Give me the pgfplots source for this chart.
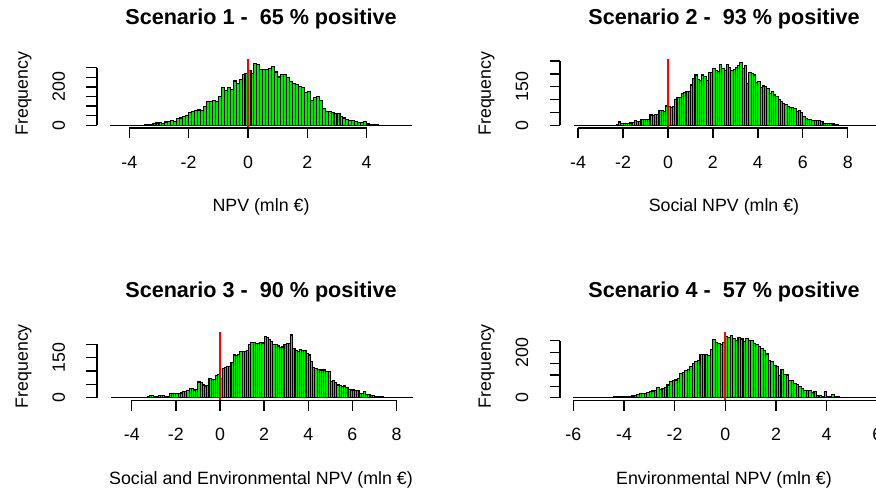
\documentclass[border=0pt]{standalone}
\usepackage{fontspec}
\setmainfont{Liberation Sans}
\usepackage{pgfplots}
\pgfplotsset{compat=1.18}
\definecolor{rgreen}{RGB}{0,235,0}
\definecolor{rred}{RGB}{255,0,0}
\newcommand\tfont{\fontsize{17.8}{17.8}\selectfont}
\newcommand\mfont{\bfseries\fontsize{21.6}{21.6}\selectfont}
\pgfplotsset{rhist/.style={
  width=328pt, height=68.7pt, scale only axis, anchor=south west,
  axis x line*=bottom, axis y line*=left,
  axis line style={draw=none},
  tick align=outside, major tick length=10.5pt,
  every tick/.style={black, line width=1.3pt},
  minor tick num=0,
  xticklabel style={font=\tfont, anchor=base, yshift=-29.8pt, inner sep=0pt},
  yticklabel style={font=\tfont, xshift=-21.5pt, rotate=90, anchor=base, inner sep=0pt},
  title style={font=\mfont, at={(0.5,1)}, anchor=base, yshift=28.3pt},
  xlabel style={font=\tfont, at={(0.5,0)}, anchor=base, yshift=-83.7pt},
  ylabel style={font=\tfont, at={(axis description cs:-0.2104,0.5)}, anchor=base},
  ylabel={Frequency},
  clip=false,
}}
\begin{document}
\begin{tikzpicture}[x=1pt,y=1pt]
\useasboundingbox (0,0) rectangle (876,495);
% ---------------- Panel 1
\begin{axis}[rhist, at={(97pt,367pt)}, xmin=-5.089, xmax=5.966, ymin=-14, ymax=344,
  xtick={-4,-2,0,2,4}, xticklabels={-4,-2,0,2,4},
  ytick={0,50,...,300}, yticklabels={0,{},{},{},200,{},{}},
  title={Scenario 1 -\ \ 65 \% positive}, xlabel={NPV (mln €)}]
\addplot[black, line width=1.3pt] coordinates {(-4.65,0) (5.53,0)};
\addplot[ybar interval, fill=rgreen, draw=black, line width=1.1pt] coordinates {
(-3.5,2)(-3.4,6)(-3.3,5)(-3.2,8)(-3.1,12)(-3.0,14)(-2.9,11)(-2.8,17)(-2.7,18)(-2.6,24)
(-2.5,22)(-2.4,35)(-2.3,38)(-2.2,45)(-2.1,52)(-2.0,65)(-1.9,74)(-1.8,79)(-1.7,80)(-1.6,79)
(-1.5,96)(-1.4,122)(-1.3,126)(-1.2,128)(-1.1,126)(-1.0,148)(-0.9,196)(-0.8,183)(-0.7,196)(-0.6,186)
(-0.5,231)(-0.4,217)(-0.3,240)(-0.2,265)(-0.1,272)(0.0,286)(0.1,272)(0.2,324)(0.3,318)(0.4,292)
(0.5,292)(0.6,290)(0.7,295)(0.8,307)(0.9,278)(1.0,252)(1.1,265)(1.2,264)(1.3,248)(1.4,230)
(1.5,217)(1.6,212)(1.7,200)(1.8,196)(1.9,169)(2.0,174)(2.1,131)(2.2,145)(2.3,148)(2.4,131)
(2.5,88)(2.6,74)(2.7,70)(2.8,68)(2.9,62)(3.0,60)(3.1,45)(3.2,38)(3.3,31)(3.4,24)
(3.5,24)(3.6,20)(3.7,15)(3.8,16)(3.9,19)(4.0,7)(4.1,6)(4.2,5)(4.3,3)(4.4,0)};
\addplot[draw=rred, line width=1.8pt, sharp plot] coordinates {(0,-14) (0,344)};
\draw[line width=1.3pt] ({axis cs:-4,0}|-{rel axis cs:0,0}) -- ({axis cs:4,0}|-{rel axis cs:0,0});
\draw[line width=1.3pt] ({rel axis cs:0,0}|-{axis cs:0,0}) -- ({rel axis cs:0,0}|-{axis cs:0,300});
\end{axis}
% ---------------- Panel 2
\begin{axis}[rhist, at={(560pt,367pt)}, xmin=-4.806, xmax=9.791, ymin=-10.5, ymax=257,
  xtick={-4,-2,0,2,4,6,8}, xticklabels={-4,-2,0,2,4,6,8},
  ytick={0,50,...,250}, yticklabels={0,{},{},150,{},{}},
  title={Scenario 2 -\ \ 93 \% positive}, xlabel={Social NPV (mln €)}]
\addplot[black, line width=1.3pt] coordinates {(-4.18,0) (9.33,0)};
\addplot[ybar interval, fill=rgreen, draw=black, line width=1.1pt] coordinates {
(-2.3,2)(-2.2,13)(-2.1,6)(-2.0,8)(-1.9,7)(-1.8,8)(-1.7,9)(-1.6,10)(-1.5,18)(-1.4,16)
(-1.3,14)(-1.2,22)(-1.1,24)(-1.0,21)(-0.9,22)(-0.8,40)(-0.7,38)(-0.6,41)(-0.5,42)(-0.4,56)
(-0.3,57)(-0.2,53)(-0.1,75)(0.0,72)(0.1,70)(0.2,73)(0.3,101)(0.4,109)(0.5,108)(0.6,124)
(0.7,126)(0.8,130)(0.9,130)(1.0,157)(1.1,183)(1.2,196)(1.3,180)(1.4,176)(1.5,196)(1.6,190)
(1.7,174)(1.8,205)(1.9,205)(2.0,221)(2.1,212)(2.2,209)(2.3,238)(2.4,220)(2.5,212)(2.6,238)
(2.7,225)(2.8,212)(2.9,218)(3.0,226)(3.1,234)(3.2,243)(3.3,221)(3.4,232)(3.5,163)(3.6,205)
(3.7,200)(3.8,196)(3.9,166)(4.0,170)(4.1,148)(4.2,153)(4.3,150)(4.4,144)(4.5,124)(4.6,131)
(4.7,118)(4.8,111)(4.9,100)(5.0,92)(5.1,85)(5.2,80)(5.3,72)(5.4,70)(5.5,69)(5.6,65)
(5.7,53)(5.8,56)(5.9,50)(6.0,34)(6.1,27)(6.2,21)(6.3,24)(6.4,18)(6.5,17)(6.6,18)
(6.7,18)(6.8,16)(6.9,8)(7.0,7)(7.1,6)(7.2,8)(7.3,5)(7.4,4)(7.5,3)(7.6,0)};
\addplot[draw=rred, line width=1.8pt, sharp plot] coordinates {(0,-10.5) (0,257)};
\draw[line width=1.3pt] ({axis cs:-4,0}|-{rel axis cs:0,0}) -- ({axis cs:8,0}|-{rel axis cs:0,0});
\draw[line width=1.3pt] ({rel axis cs:0,0}|-{axis cs:0,0}) -- ({rel axis cs:0,0}|-{axis cs:0,250});
\end{axis}
% ---------------- Panel 3
\begin{axis}[rhist, at={(97pt,94.5pt)}, xmin=-5.576, xmax=9.293, ymin=-10.1, ymax=247,
  xtick={-4,-2,0,2,4,6,8}, xticklabels={-4,-2,0,2,4,6,8},
  ytick={0,50,...,200}, yticklabels={0,{},{},150,{}},
  title={Scenario 3 -\ \ 90 \% positive}, xlabel={Social and Environmental NPV (mln €)}]
\addplot[black, line width=1.3pt] coordinates {(-4.96,0) (8.73,0)};
\addplot[ybar interval, fill=rgreen, draw=black, line width=1.1pt] coordinates {
(-3.4,2)(-3.3,5)(-3.2,10)(-3.1,8)(-3.0,6)(-2.9,5)(-2.8,7)(-2.7,10)(-2.6,9)(-2.5,6)
(-2.4,6)(-2.3,16)(-2.2,15)(-2.1,17)(-2.0,16)(-1.9,17)(-1.8,18)(-1.7,22)(-1.6,24)(-1.5,26)
(-1.4,35)(-1.3,36)(-1.2,29)(-1.1,30)(-1.0,59)(-0.9,56)(-0.8,48)(-0.7,44)(-0.6,45)(-0.5,72)
(-0.4,69)(-0.3,70)(-0.2,85)(-0.1,88)(0.0,72)(0.1,110)(0.2,112)(0.3,116)(0.4,118)(0.5,131)
(0.6,160)(0.7,158)(0.8,163)(0.9,173)(1.0,173)(1.1,172)(1.2,178)(1.3,201)(1.4,208)(1.5,208)
(1.6,204)(1.7,204)(1.8,206)(1.9,205)(2.0,229)(2.1,226)(2.2,218)(2.3,210)(2.4,201)(2.5,201)
(2.6,194)(2.7,188)(2.8,190)(2.9,198)(3.0,204)(3.1,204)(3.2,235)(3.3,185)(3.4,178)(3.5,173)
(3.6,181)(3.7,178)(3.8,176)(3.9,166)(4.0,160)(4.1,135)(4.2,115)(4.3,110)(4.4,106)(4.5,104)
(4.6,104)(4.7,104)(4.8,100)(4.9,98)(5.0,62)(5.1,66)(5.2,58)(5.3,48)(5.4,45)(5.5,41)
(5.6,44)(5.7,40)(5.8,31)(5.9,29)(6.0,29)(6.1,26)(6.2,26)(6.3,16)(6.4,17)(6.5,22)
(6.6,14)(6.7,12)(6.8,10)(6.9,8)(7.0,6)(7.1,6)(7.2,5)(7.3,4)(7.4,0)};
\addplot[draw=rred, line width=1.8pt, sharp plot] coordinates {(0,-10.1) (0,247)};
\draw[line width=1.3pt] ({axis cs:-4,0}|-{rel axis cs:0,0}) -- ({axis cs:8,0}|-{rel axis cs:0,0});
\draw[line width=1.3pt] ({rel axis cs:0,0}|-{axis cs:0,0}) -- ({rel axis cs:0,0}|-{axis cs:0,200});
\end{axis}
% ---------------- Panel 4
\begin{axis}[rhist, at={(560pt,94.5pt)}, xmin=-6.526, xmax=6.423, ymin=-11.8, ymax=289.5,
  xtick={-6,-4,-2,0,2,4,6}, xticklabels={-6,-4,-2,0,2,4,6},
  ytick={0,50,...,250}, yticklabels={0,{},{},{},200,{}},
  title={Scenario 4 -\ \ 57 \% positive}, xlabel={Environmental NPV (mln €)}]
\addplot[black, line width=1.3pt] coordinates {(-6.0,0) (6.0,0)};
\addplot[ybar interval, fill=rgreen, draw=black, line width=1.1pt] coordinates {
(-4.5,2)(-4.4,4)(-4.3,5)(-4.2,6)(-4.1,5)(-4.0,6)(-3.9,7)(-3.8,6)(-3.7,8)(-3.6,12)
(-3.5,13)(-3.4,18)(-3.3,19)(-3.2,20)(-3.1,22)(-3.0,29)(-2.9,30)(-2.8,34)(-2.7,44)(-2.6,38)
(-2.5,40)(-2.4,44)(-2.3,56)(-2.2,73)(-2.1,77)(-2.0,78)(-1.9,85)(-1.8,107)(-1.7,110)(-1.6,121)
(-1.5,124)(-1.4,136)(-1.3,151)(-1.2,158)(-1.1,165)(-1.0,190)(-0.9,190)(-0.8,190)(-0.7,187)(-0.6,212)
(-0.5,256)(-0.4,241)(-0.3,238)(-0.2,234)(-0.1,241)(0.0,270)(0.1,265)(0.2,275)(0.3,262)(0.4,250)
(0.5,265)(0.6,258)(0.7,246)(0.8,260)(0.9,250)(1.0,250)(1.1,238)(1.2,234)(1.3,224)(1.4,215)
(1.5,209)(1.6,192)(1.7,165)(1.8,158)(1.9,140)(2.0,136)(2.1,99)(2.2,124)(2.3,104)(2.4,100)
(2.5,77)(2.6,75)(2.7,63)(2.8,60)(2.9,48)(3.0,41)(3.1,34)(3.2,31)(3.3,31)(3.4,22)
(3.5,29)(3.6,12)(3.7,10)(3.8,7)(3.9,26)(4.0,7)(4.1,5)(4.2,15)(4.3,6)(4.4,7)
(4.5,3)(4.6,0)};
\addplot[draw=rred, line width=1.8pt, sharp plot] coordinates {(0,-11.8) (0,289.5)};
\draw[line width=1.3pt] ({axis cs:-6,0}|-{rel axis cs:0,0}) -- ({axis cs:6,0}|-{rel axis cs:0,0});
\draw[line width=1.3pt] ({rel axis cs:0,0}|-{axis cs:0,0}) -- ({rel axis cs:0,0}|-{axis cs:0,250});
\end{axis}
\end{tikzpicture}
\end{document}
